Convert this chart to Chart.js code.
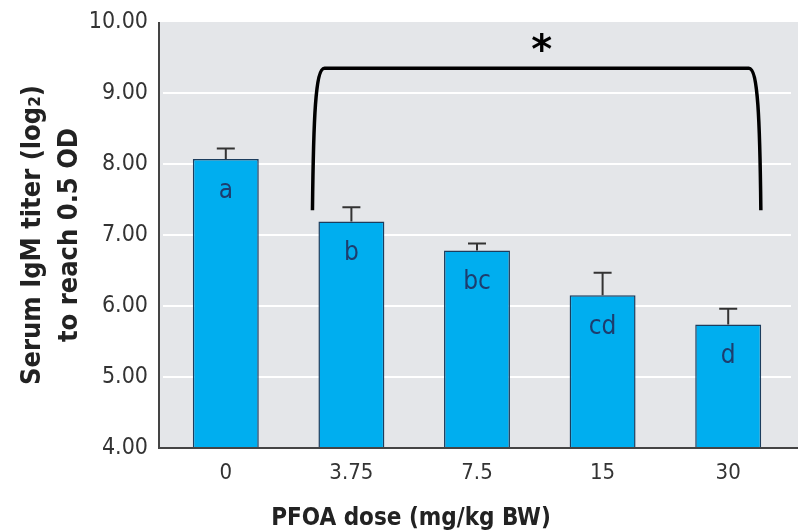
<!DOCTYPE html>
<html>
<head>
<meta charset="utf-8">
<script src="https://cdn.jsdelivr.net/npm/chart.js@4"></script>
<style>
    body { margin: 0; background: #fff; }
    #wrap { width: 798px; height: 532px; }
</style>
</head>
<body>
<div id="wrap"><canvas id="igmChart"></canvas></div>
<script>
// data
const doses = ['0', '3.75', '7.5', '15', '30'];
const igmMeans = [8.07, 7.19, 6.78, 6.15, 5.74];
const igmErrors = [0.15, 0.20, 0.10, 0.32, 0.22];
const groupLetters = ['a', 'b', 'bc', 'cd', 'd'];
const yTicks = [4, 5, 6, 7, 8, 9, 10];
const xTitle = 'PFOA dose (mg/kg BW)';

// significance bracket, in data units (category index / titer)
const bracketFrom = 0.69;
const bracketTo = 4.26;
const bracketTop = 9.35;
const bracketBase = 7.35;

const narrow = '"Liberation Sans Narrow", "DejaVu Sans Condensed", Arial, sans-serif';

// gray plot background + axis lines + x title
const plotBackground = {
    id: 'plotBackground',
    beforeDraw(chart) {
        const { ctx, chartArea: a } = chart;
        ctx.save();
        ctx.fillStyle = '#e4e6e9';
        ctx.fillRect(a.left - 4, a.top, chart.width - a.left + 4, a.bottom - a.top);
        ctx.restore();
    },
    afterDraw(chart) {
        const { ctx, chartArea: a } = chart;
        ctx.save();
        ctx.strokeStyle = '#444';
        ctx.lineWidth = 2;
        ctx.beginPath();
        ctx.moveTo(a.left - 4, a.top);
        ctx.lineTo(a.left - 4, a.bottom);
        ctx.lineTo(chart.width, a.bottom);
        ctx.stroke();

        // x axis title sits left of the plot centre in the original
        ctx.fillStyle = '#222';
        ctx.font = 'bold 24px ' + narrow;
        ctx.textAlign = 'center';
        ctx.textBaseline = 'middle';
        ctx.fillText(xTitle, chart.width * 0.515, a.bottom + 71);
        ctx.restore();
    }
};

// error bars (upper only), group letters and the bracket
const extras = {
    id: 'extras',
    afterDatasetsDraw(chart) {
        const { ctx } = chart;
        const x = chart.scales.x, y = chart.scales.y;
        const meta = chart.getDatasetMeta(0);
        ctx.save();
        meta.data.forEach((bar, i) => {
            const top = y.getPixelForValue(igmMeans[i]);
            const up = y.getPixelForValue(igmMeans[i] + igmErrors[i]);
            ctx.strokeStyle = '#333';
            ctx.lineWidth = 2;
            ctx.beginPath();
            ctx.moveTo(bar.x, top);
            ctx.lineTo(bar.x, up);
            ctx.moveTo(bar.x - 9, up);
            ctx.lineTo(bar.x + 9, up);
            ctx.stroke();

            ctx.fillStyle = '#1d3d6e';
            ctx.font = '26px ' + narrow;
            ctx.textAlign = 'center';
            ctx.textBaseline = 'middle';
            ctx.fillText(groupLetters[i], bar.x, top + 32);
        });

        const xl = x.getPixelForValue(bracketFrom);
        const xr = x.getPixelForValue(bracketTo);
        const yt = y.getPixelForValue(bracketTop);
        const yb = y.getPixelForValue(bracketBase);
        ctx.strokeStyle = '#000';
        ctx.lineWidth = 3.5;
        ctx.beginPath();
        ctx.moveTo(xl, yb);
        ctx.bezierCurveTo(xl + 1, yt + 50, xl + 3, yt, xl + 12, yt);
        ctx.lineTo(xr - 12, yt);
        ctx.bezierCurveTo(xr - 3, yt, xr - 1, yt + 50, xr, yb);
        ctx.stroke();

        ctx.fillStyle = '#000';
        ctx.font = 'bold 40px "DejaVu Sans", sans-serif';
        ctx.textAlign = 'center';
        ctx.textBaseline = 'middle';
        ctx.fillText('*', (xl + xr) / 2 + 5, yt - 16);
        ctx.restore();
    }
};

new Chart(document.getElementById('igmChart'), {
    type: 'bar',
    data: {
        labels: doses,
        datasets: [{
            data: igmMeans,
            backgroundColor: '#00aeef',
            borderColor: '#1b3d5e',
            borderWidth: 1.5,
            borderSkipped: 'bottom',
            barPercentage: 0.6,
            categoryPercentage: 0.875
        }]
    },
    options: {
        responsive: true,
        maintainAspectRatio: false,
        animation: false,
        layout: {
            padding: { left: 0, right: 7, top: 22, bottom: 0 }
        },
        plugins: {
            legend: { display: false },
            tooltip: { enabled: false }
        },
        scales: {
            y: {
                min: 4,
                max: 10,
                afterFit(scale) {
                    scale.width = 163;
                    scale.paddingTop = 0;
                    scale.paddingBottom = 0;
                },
                afterBuildTicks(scale) {
                    scale.ticks = yTicks.map(v => ({ value: v }));
                },
                border: { display: false },
                grid: {
                    color: ctx => (ctx.tick.value === 4 || ctx.tick.value === 10) ? 'rgba(0,0,0,0)' : '#ffffff',
                    lineWidth: 2,
                    drawTicks: false
                },
                ticks: {
                    padding: 15,
                    color: '#333',
                    font: { family: narrow, size: 23 },
                    callback: v => v.toFixed(2)
                },
                title: {
                    display: true,
                    text: ['Serum IgM titer (log\u2082)', 'to reach 0.5 OD'],
                    color: '#222',
                    font: { family: narrow, size: 27, weight: 'bold', lineHeight: 1.38 },
                    padding: { top: 14, bottom: 0 }
                }
            },
            x: {
                afterFit(scale) {
                    scale.height = 84;
                    scale.paddingLeft = 0;
                    scale.paddingRight = 0;
                },
                border: { display: false },
                grid: { display: false, drawTicks: false },
                ticks: {
                    padding: 12,
                    color: '#333',
                    font: { family: narrow, size: 22 }
                }
            }
        }
    },
    plugins: [plotBackground, extras]
});
</script>
</body>
</html>
